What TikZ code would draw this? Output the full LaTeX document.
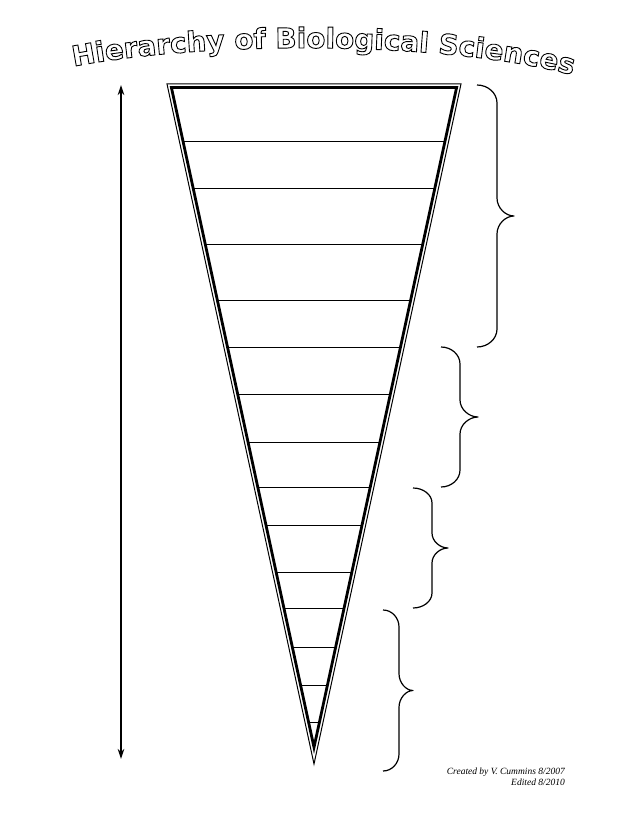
\documentclass[tikz,border=0pt]{standalone}
\usepackage{fontspec}
\setmainfont{Liberation Serif}
\newfontfamily\titlefont{DejaVu Sans}
\usetikzlibrary{arrows.meta,decorations.text}
\newcommand\ttlfmt{\titlefont\bfseries\fontsize{27.8}{30}\selectfont\special{pdf:literal direct 1 Tr 0.9 w}}
\newcommand\mybrace[6]{%
  \pgfmathsetmacro\ym{(#2+#3)/2}%
  \draw[bracestyle] (#1,#2) .. controls ({#1+0.55*(#4-#1)},#2) and (#4,{#2+0.45*#6}) .. (#4,{#2+#6})
   -- (#4,{\ym-#6}) .. controls (#4,{\ym-0.45*#6}) and ({#4+0.5*(#5-#4)},\ym) .. (#5,\ym)
   .. controls ({#4+0.5*(#5-#4)},\ym) and (#4,{\ym+0.45*#6}) .. (#4,{\ym+#6})
   -- (#4,{#3-#6}) .. controls (#4,{#3-0.45*#6}) and ({#1+0.55*(#4-#1)},#3) .. (#1,#3);
}
\tikzset{
  rung/.style={line width=0.95pt},
  outerline/.style={line width=1pt, line join=miter},
  innerline/.style={line width=2.8pt, line join=miter},
  bracestyle/.style={line width=1.2pt, line join=round},
  titlearc/.style={decorate, decoration={text along path, text align=center,
     text color=black,
     text={|\ttlfmt|Hierarchy of Biological Sciences}}},
}
\begin{document}
\begin{tikzpicture}[x=1pt,y=-1pt]
\path[fill=white] (0,0) rectangle (638,826);
\useasboundingbox (0,0) rectangle (638,826);
% title (outlined letters)
\path[titlearc] (66,68) .. controls (200,40) and (450,40) .. (580,77);
% triangle
\draw[outerline] (167,84) -- (461,84) -- (314,764) -- cycle;
\draw[innerline] (171.4,87.5) -- (456.6,87.5) -- (314,747.3) -- cycle;
% rungs
\foreach \y in {141,188,244,300,347,394,442,487,525,572,608,647,685,722}{
  \pgfmathsetmacro\hw{143.4-0.2162*(\y-84)}
  \draw[rung] ({314-\hw},\y) -- ({314+\hw},\y);
}
% arrow
\coordinate (arrtop) at (121,85);
\coordinate (arrbot) at (121,759);
\draw[<->, >={Stealth[length=10pt,width=6.5pt]}, line width=1.3pt] (arrtop) -- (arrbot);
% braces
\mybrace{477}{85}{347}{497}{514}{18}
\mybrace{441}{347}{487}{460}{478}{17}
\mybrace{413}{488}{608}{432}{448}{15}
\mybrace{383}{610}{771}{399}{413}{17}
% credits
\node[anchor=north east, align=right, inner sep=0pt,
      font=\itshape\fontsize{9.5}{10.3}\selectfont] (credit) at (565,768)
  {Created by V. Cummins 8/2007\\Edited 8/2010};
\end{tikzpicture}
\end{document}
